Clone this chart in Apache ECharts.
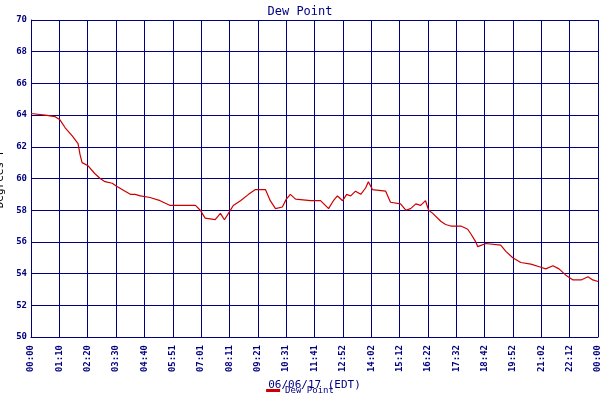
<!DOCTYPE html><html><head><meta charset="utf-8">
<script src="https://cdn.jsdelivr.net/npm/echarts@6/dist/echarts.min.js"></script>
<style>html,body{margin:0;background:#fff}#c{width:600px;height:400px}</style></head><body><div id="c"></div>
<script>
const minutes=[0,35,60,72,85,102,117,122,127,142,159,172,184,202,214,234,247,259,272,296,321,346,371,409,421,433,458,471,481,491,503,521,541,558,583,595,608,625,635,645,658,695,720,732,740,752,762,775,785,795,807,820,832,839,849,882,894,919,932,944,957,969,981,989,999,1019,1031,1044,1069,1086,1094,1106,1111,1131,1168,1181,1198,1218,1243,1268,1280,1298,1313,1330,1348,1368,1385,1397,1410];
const dewPoint=[64.1,64.0,63.9,63.7,63.2,62.7,62.2,61.5,61.0,60.8,60.3,60.0,59.8,59.7,59.5,59.2,59.0,59.0,58.9,58.8,58.6,58.3,58.3,58.3,58.0,57.5,57.4,57.8,57.4,57.8,58.3,58.6,59.0,59.3,59.3,58.6,58.1,58.2,58.7,59.0,58.7,58.6,58.6,58.3,58.1,58.6,58.9,58.6,59.0,58.9,59.2,59.0,59.4,59.8,59.3,59.2,58.5,58.4,58.0,58.1,58.4,58.3,58.6,58.0,57.8,57.3,57.1,57.0,57.0,56.8,56.5,56.0,55.7,55.9,55.8,55.4,55.0,54.7,54.6,54.4,54.3,54.5,54.3,53.9,53.6,53.6,53.8,53.6,53.5];
const tickLabels=["00:00","01:10","02:20","03:30","04:40","05:51","07:01","08:11","09:21","10:31","11:41","12:52","14:02","15:12","16:22","17:32","18:42","19:52","21:02","22:12","00:00"];
const navy='#000080',font='DejaVu Sans Mono';
const ch=echarts.init(document.getElementById('c'));
ch.setOption({
 animation:false,backgroundColor:'#fff',
 title:{text:'Dew Point',left:'center',top:1,textStyle:{color:navy,fontFamily:font,fontSize:12,fontWeight:'normal'}},
 legend:{bottom:0,left:'center',itemWidth:14,itemHeight:3,icon:'rect',textStyle:{color:navy,fontFamily:font,fontSize:9},data:['Dew Point']},
 grid:{left:31,right:2,top:20,bottom:63,containLabel:false,outerBoundsMode:'none'},
 xAxis:{type:'value',min:0,max:1410,interval:70.5,name:'06/06/17 (EDT)',nameLocation:'middle',nameGap:40,
  nameTextStyle:{color:navy,fontFamily:font,fontSize:11},
  axisLine:{lineStyle:{color:navy,width:1}},axisTick:{show:false},
  splitLine:{show:true,lineStyle:{color:navy,width:1}},
  axisLabel:{rotate:90,color:navy,fontFamily:font,fontSize:9,fontWeight:'bold',showMaxLabel:true,
   formatter:v=>tickLabels[Math.round(v/70.5)]||''}},
 yAxis:{type:'value',min:50,max:70,interval:2,name:'Degrees F',nameLocation:'middle',nameGap:23,
  nameTextStyle:{color:'#000',fontFamily:font,fontSize:11},
  axisLine:{show:true,lineStyle:{color:navy}},axisTick:{show:false},
  splitLine:{lineStyle:{color:navy,width:1}},
  axisLabel:{color:navy,fontFamily:font,fontSize:9,fontWeight:'bold',margin:4}},
 series:[{name:'Dew Point',type:'line',symbol:'none',color:'#cc0000',lineStyle:{width:1.2,color:'#cc0000'},
  data:minutes.map((m,i)=>[m,dewPoint[i]])}]
});
</script></body></html>
